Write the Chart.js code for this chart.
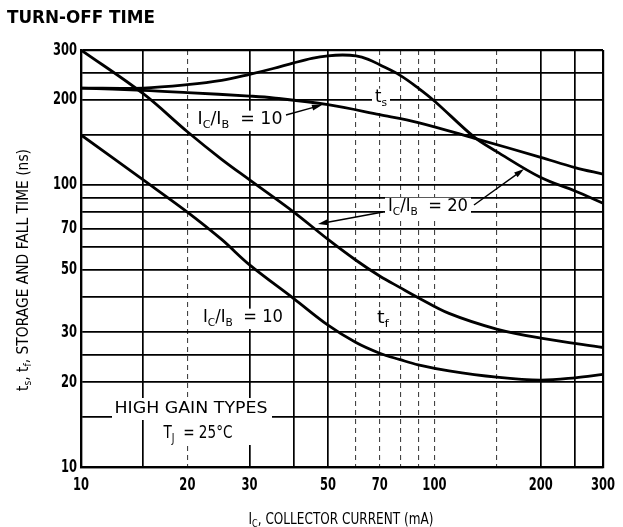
<!DOCTYPE html>
<html>
<head>
<meta charset="utf-8">
<script src="https://cdn.jsdelivr.net/npm/chart.js@4.4.1/dist/chart.umd.min.js"></script>
<style>
  body { margin: 0; background: #fff; }
  #turnoff { display: block; }
</style>
</head>
<body>
<canvas id="turnoff" width="623" height="527"></canvas>
<script>
// values (IC in mA, time in ns)
const tsHighX = [10, 15, 20, 25, 30, 35, 40, 45, 50, 55, 60, 65, 70, 80, 90, 100, 130, 150, 200, 250, 300];
const tsHighY = [220, 220, 226, 234, 246, 258, 270, 280, 286, 288, 286, 278, 266, 244, 220, 198, 147, 131, 106, 95, 86];

const tsLowX = [10, 15, 20, 30, 35, 50, 70, 90, 130, 200, 250, 300];
const tsLowY = [220, 216, 212, 206, 203, 192, 177, 166, 146, 125, 115, 109];

const tfHighX = [10, 15, 20, 25, 30, 40, 50, 60, 70, 80, 90, 110, 150, 200, 300];
const tfHighY = [300, 210, 154, 123, 104, 80, 64, 54, 47.5, 43.2, 39.8, 35, 30.8, 28.6, 26.5];

const tfLowX = [10, 15, 20, 25, 30, 40, 50, 60, 70, 80, 90, 110, 150, 200, 250, 300];
const tfLowY = [150, 104, 80, 64, 52, 39.5, 31.8, 27.6, 25.3, 24, 23, 21.9, 20.8, 20.3, 20.7, 21.3];

const xGrid = [10, 15, 20, 30, 40, 50, 60, 70, 80, 90, 100, 150, 200, 250, 300];
const xDashed = [20, 60, 70, 80, 90, 100, 150];
const xLabels = [10, 20, 30, 50, 70, 100, 200, 300];

const yGrid = [10, 15, 20, 25, 30, 40, 50, 60, 70, 80, 90, 100, 150, 200, 250, 300];
const yLabels = [10, 20, 30, 50, 70, 100, 200, 300];

const face = '"DejaVu Sans", sans-serif';

function curve(xs, ys) {
  return {
    data: xs.map((x, i) => ({ x: x, y: ys[i] })),
    showLine: true,
    borderColor: '#000',
    borderWidth: 2.8,
    pointRadius: 0,
    tension: 0.35,
    fill: false
  };
}

function setFont(ctx, size, bold) {
  ctx.font = (bold ? 'bold ' : '') + size + 'px ' + face;
}

// text with subscripts, squeezed to the width it has in the scan
// segs = [[text, isSub], ...]
function drawRich(ctx, segs, x, y, size, width, box, bold) {
  let w = 0;
  segs.forEach(s => {
    setFont(ctx, s[1] ? Math.round(size * 0.66) : size, bold);
    w += ctx.measureText(s[0]).width;
  });
  const sx = width / w;
  if (box) {
    ctx.fillStyle = '#fff';
    ctx.fillRect(x - width / 2 - 3, y - size * 0.55, width + 6, size * 1.2);
  }
  ctx.save();
  ctx.translate(x - width / 2, y);
  ctx.scale(sx, 1);
  ctx.fillStyle = '#000';
  ctx.textBaseline = 'middle';
  ctx.textAlign = 'left';
  let cx = 0;
  segs.forEach(s => {
    setFont(ctx, s[1] ? Math.round(size * 0.66) : size, bold);
    ctx.fillText(s[0], cx, s[1] ? size * 0.32 : 0);
    cx += ctx.measureText(s[0]).width;
  });
  ctx.restore();
}

// narrow tick numbers like the condensed type of the scan
function drawNumber(ctx, text, x, y, align) {
  ctx.save();
  ctx.translate(x, y);
  ctx.scale(0.64, 1);
  setFont(ctx, 18, true);
  ctx.fillStyle = '#000';
  ctx.textAlign = align;
  ctx.textBaseline = 'middle';
  ctx.fillText(text, 0, 0);
  ctx.restore();
}

function arrow(ctx, x1, y1, x2, y2) {
  const a = Math.atan2(y2 - y1, x2 - x1);
  ctx.strokeStyle = '#000';
  ctx.lineWidth = 1.4;
  ctx.beginPath();
  ctx.moveTo(x1, y1);
  ctx.lineTo(x2 - 7 * Math.cos(a), y2 - 7 * Math.sin(a));
  ctx.stroke();
  ctx.fillStyle = '#000';
  ctx.beginPath();
  ctx.moveTo(x2, y2);
  ctx.lineTo(x2 - 10 * Math.cos(a) + 3 * Math.sin(a), y2 - 10 * Math.sin(a) - 3 * Math.cos(a));
  ctx.lineTo(x2 - 10 * Math.cos(a) - 3 * Math.sin(a), y2 - 10 * Math.sin(a) + 3 * Math.cos(a));
  ctx.closePath();
  ctx.fill();
}

const notes = {
  id: 'notes',
  afterDatasetsDraw(chart) {
    const ctx = chart.ctx;
    const xs = chart.scales.x, ys = chart.scales.y;
    ctx.save();

    xLabels.forEach(v => drawNumber(ctx, String(v), xs.getPixelForValue(v), 485, 'center'));
    yLabels.forEach(v => drawNumber(ctx, String(v), 77, ys.getPixelForValue(v), 'right'));

    const ratio10 = [['I', 0], ['C', 1], ['/I', 0], ['B', 1], ['  = 10', 0]];
    const ratio20 = [['I', 0], ['C', 1], ['/I', 0], ['B', 1], ['  = 20', 0]];

    drawRich(ctx, ratio10, 240, 120, 17, 85, true);
    arrow(ctx, 286, 115, 322, 105);

    drawRich(ctx, [['t', 0], ['s', 1]], 381, 98, 17, 12, true);

    drawRich(ctx, ratio20, 428, 207, 17, 80, true);
    arrow(ctx, 383, 212, 318, 224);
    arrow(ctx, 474, 205, 524, 169);

    drawRich(ctx, ratio10, 243, 318, 17, 80, true);
    drawRich(ctx, [['t', 0], ['f', 1]], 383, 319, 17, 12, true);

    // conditions, on white like the scan
    ctx.fillStyle = '#fff';
    ctx.fillRect(112, 398, 160, 22);
    ctx.fillRect(144, 420, 107, 25);
    drawRich(ctx, [['HIGH GAIN TYPES', 0]], 191, 409, 16, 153, false);
    drawRich(ctx, [['T', 0], ['J', 1], ['  = 25\u00B0C', 0]], 198, 433, 18, 69, false);

    // axis titles
    drawRich(ctx, [['I', 0], ['C', 1], [', COLLECTOR CURRENT (mA)', 0]], 341, 520, 15, 185, false);
    ctx.save();
    ctx.translate(24, 270);
    ctx.rotate(-Math.PI / 2);
    drawRich(ctx, [['t', 0], ['s', 1], [', t', 0], ['f', 1], [', STORAGE AND FALL TIME (ns)', 0]], 0, 0, 15, 242, false);
    ctx.restore();

    drawRich(ctx, [['TURN-OFF TIME', 0]], 81, 19, 17, 148, false, true);
    ctx.restore();
  }
};

const gridWidth = dashed => c => {
  const v = c.tick ? c.tick.value : null;
  if (v === 10 || v === 300) return 2.2;
  return dashed.includes(v) ? 1.1 : 1.7;
};

new Chart(document.getElementById('turnoff'), {
  type: 'scatter',
  data: {
    datasets: [
      curve(tsHighX, tsHighY),
      curve(tsLowX, tsLowY),
      curve(tfHighX, tfHighY),
      curve(tfLowX, tfLowY)
    ]
  },
  options: {
    responsive: false,
    animation: false,
    layout: { padding: { top: 50, right: 20, left: 0, bottom: 0 } },
    plugins: { legend: { display: false }, tooltip: { enabled: false } },
    scales: {
      x: {
        type: 'logarithmic',
        min: 10,
        max: 300,
        afterBuildTicks: s => { s.ticks = xGrid.map(v => ({ value: v })); },
        afterFit: s => { s.height = 60; },
        ticks: { display: false, autoSkip: false },
        grid: {
          color: c => (c.tick && xDashed.includes(c.tick.value) ? '#444' : '#000'),
          lineWidth: gridWidth(xDashed),
          drawTicks: false
        },
        border: {
          color: '#000',
          width: 2.2,
          dash: c => (c.tick && xDashed.includes(c.tick.value) ? [5, 4] : [])
        }
      },
      y: {
        type: 'logarithmic',
        min: 10,
        max: 300,
        afterBuildTicks: s => { s.ticks = yGrid.map(v => ({ value: v })); },
        afterFit: s => { s.width = 81; },
        ticks: { display: false, autoSkip: false },
        grid: {
          color: '#000',
          lineWidth: gridWidth([]),
          drawTicks: false
        },
        border: { color: '#000', width: 2.2 }
      }
    }
  },
  plugins: [notes]
});
</script>
</body>
</html>
